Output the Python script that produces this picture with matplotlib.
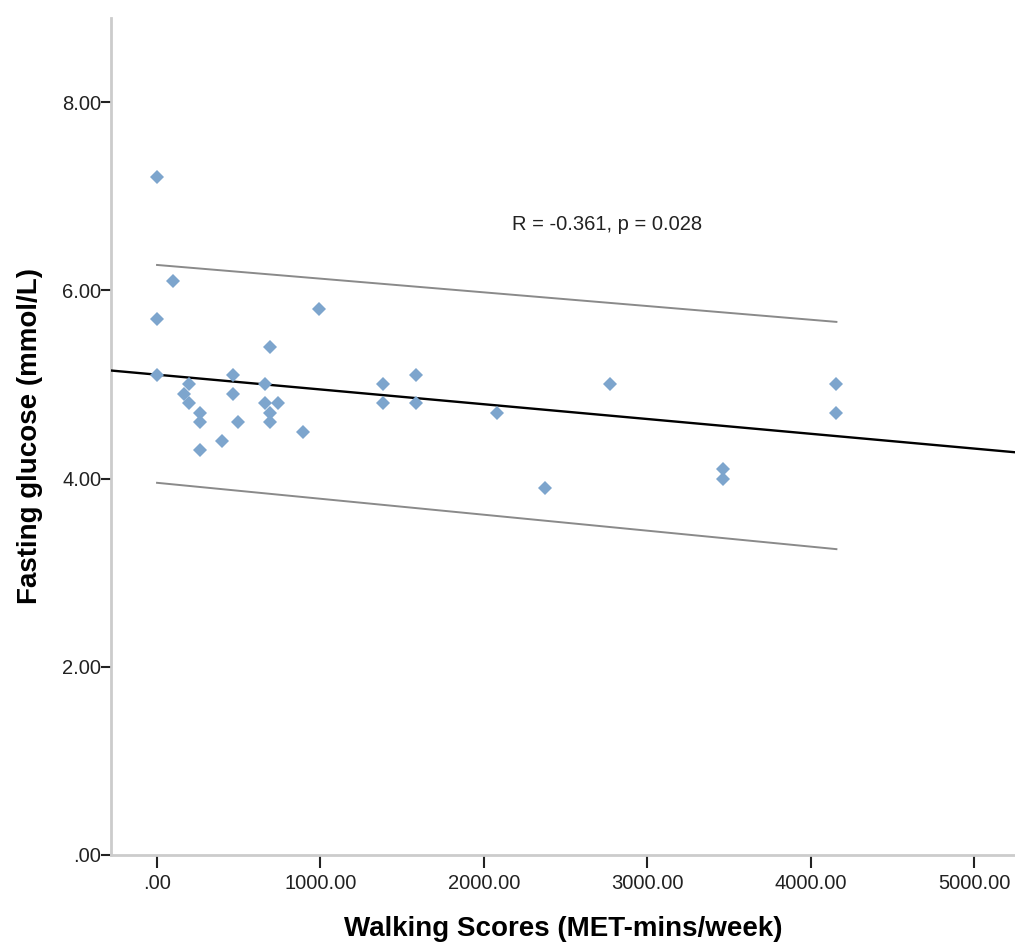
import numpy as np
import matplotlib
matplotlib.use("Agg")
import matplotlib.pyplot as plt

plt.rcParams['font.family'] = ['Liberation Sans', 'DejaVu Sans']

walking = [0, 0, 0, 99, 165, 198, 198, 264, 264, 264, 396, 462, 462, 495,
           660, 660, 693, 693, 693, 742.5, 891, 990, 1386, 1386, 1584, 1584,
           2079, 2376, 2772, 3465, 3465, 4158, 4158]
glucose = [7.2, 5.7, 5.1, 6.1, 4.9, 5.0, 4.8, 4.7, 4.6, 4.3, 4.4, 5.1, 4.9, 4.6,
           5.0, 4.8, 5.4, 4.7, 4.6, 4.8, 4.5, 5.8, 5.0, 4.8, 5.1, 4.8,
           4.7, 3.9, 5.0, 4.1, 4.0, 5.0, 4.7]

# regression line and 95% prediction band
fit_intercept = 5.104
fit_slope = -0.000157
band_x = [0, 4158]
band_upper = [6.27, 5.665]
band_lower = [3.955, 3.25]

xticks = [0, 1000, 2000, 3000, 4000, 5000]
xtick_labels = ['.00', '1000.00', '2000.00', '3000.00', '4000.00', '5000.00']
yticks = [0, 2, 4, 6, 8]
ytick_labels = ['.00', '2.00', '4.00', '6.00', '8.00']
annotation = 'R = -0.361, p = 0.028'

fig = plt.figure(figsize=(10.15, 9.44), dpi=100)
ax = fig.add_axes([0.1094, 0.0943, 0.8906, 0.8867])

ax.set_xlim(-281.5, 5251)
ax.set_ylim(0, 8.895)

xl = np.array(ax.get_xlim())
ax.plot(xl, fit_slope * xl + fit_intercept, color='black', lw=1.7, zorder=3)
ax.plot(band_x, band_upper, color='#8a8a8a', lw=1.4, zorder=2)
ax.plot(band_x, band_lower, color='#8a8a8a', lw=1.4, zorder=2)

ax.plot(walking, glucose, linestyle='none', marker='D', markersize=7.6, color='#7da5cd',
        markeredgewidth=0, zorder=4)

ax.text(2754, 6.70, annotation, ha='center', va='center', fontsize=14.5, color='#222222')

for sp in ['top', 'right']:
    ax.spines[sp].set_visible(False)
for sp in ['left', 'bottom']:
    ax.spines[sp].set_color('#cccccc')
    ax.spines[sp].set_linewidth(2)

ax.set_xticks(xticks)
ax.set_xticklabels(xtick_labels)
ax.set_yticks(yticks)
ax.set_yticklabels(ytick_labels)
ax.tick_params(axis='y', length=7, width=1.5, color='#222222', labelcolor='#222222',
               labelsize=14.5, pad=0)
ax.tick_params(axis='x', length=9, width=1.5, color='#222222', labelcolor='#222222',
               labelsize=14.5, pad=5)

ax.set_xlabel('Walking Scores (MET-mins/week)', fontsize=20, fontweight='bold', labelpad=16)
ax.set_ylabel('Fasting glucose (mmol/L)', fontsize=20, fontweight='bold', labelpad=14)

fig.savefig('out.png', dpi=100)
